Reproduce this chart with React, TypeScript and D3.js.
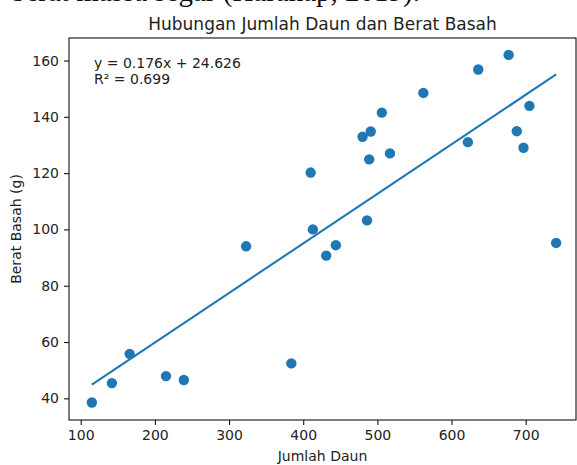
import { useEffect, useRef } from "react";
import * as d3 from "d3";

const WIDTH = 577;
const HEIGHT = 465;

// data
const jumlahDaun = [115, 142, 166, 215, 239, 323, 384, 410, 413, 431, 444, 480, 491, 489, 486, 506, 517, 562, 622, 636, 677, 688, 697, 705, 741];
const beratBasah = [38.5, 45.4, 55.8, 47.9, 46.5, 94.0, 52.4, 120.2, 100.0, 90.7, 94.4, 132.9, 134.8, 124.9, 103.2, 141.5, 127.0, 148.5, 131.0, 156.8, 162.0, 134.9, 129.0, 143.9, 95.2];
const xTicks = [100, 200, 300, 400, 500, 600, 700];
const yTicks = [40, 60, 80, 100, 120, 140, 160];
const slope = 0.176;
const intercept = 24.626;
const r2 = 0.699;

const FONT = "DejaVu Sans, sans-serif";
const BLUE = "#1f77b4";

export default function App() {
  const svgRef = useRef<SVGSVGElement>(null);

  useEffect(() => {
    const svg = d3.select(svgRef.current);
    svg.selectAll("*").remove();

    const left = 69, right = 576, top = 38, bottom = 420;
    const x = d3.scaleLinear().domain([84.2, 767.8]).range([left, right]);
    const y = d3.scaleLinear().domain([32.3, 168]).range([bottom, top]);

    // cropped line of the document above the figure (only its lower edge shows)
    svg.append("text")
      .attr("x", 420).attr("y", 1)
      .attr("text-anchor", "end")
      .attr("font-family", "Liberation Serif, serif")
      .attr("font-size", 29)
      .attr("fill", "#111")
      .text("berat massa segar (Harahap, 2019).");

    // points
    svg.append("g")
      .selectAll("circle")
      .data(jumlahDaun.map((d, i) => [d, beratBasah[i]]))
      .join("circle")
      .attr("cx", (d) => x(d[0]))
      .attr("cy", (d) => y(d[1]))
      .attr("r", 5.2)
      .attr("fill", BLUE);

    // regression line
    const xs = d3.extent(jumlahDaun) as [number, number];
    svg.append("path")
      .datum(xs.map((v) => [v, slope * v + intercept]))
      .attr("d", d3.line<number[]>().x((d) => x(d[0])).y((d) => y(d[1])))
      .attr("fill", "none")
      .attr("stroke", BLUE)
      .attr("stroke-width", 2.1);

    // frame
    svg.append("rect")
      .attr("x", left).attr("y", top)
      .attr("width", right - left).attr("height", bottom - top)
      .attr("fill", "none")
      .attr("stroke", "#111")
      .attr("stroke-width", 1.1);

    const xAxis = svg.append("g")
      .attr("transform", `translate(0,${bottom})`)
      .call(d3.axisBottom(x).tickValues(xTicks).tickSize(5).tickPadding(5));
    const yAxis = svg.append("g")
      .attr("transform", `translate(${left},0)`)
      .call(d3.axisLeft(y).tickValues(yTicks).tickSize(5).tickPadding(5));
    [xAxis, yAxis].forEach((g) => {
      g.select(".domain").remove();
      g.selectAll("line").attr("stroke", "#111").attr("stroke-width", 1.1);
      g.selectAll("text")
        .attr("font-family", FONT)
        .attr("font-size", 14)
        .attr("fill", "#222");
    });

    svg.append("text")
      .attr("x", (left + right) / 2).attr("y", 30)
      .attr("text-anchor", "middle")
      .attr("font-family", FONT)
      .attr("font-size", 17)
      .attr("fill", "#222")
      .text("Hubungan Jumlah Daun dan Berat Basah");

    svg.append("text")
      .attr("x", (left + right) / 2).attr("y", 461)
      .attr("text-anchor", "middle")
      .attr("font-family", FONT)
      .attr("font-size", 14)
      .attr("fill", "#222")
      .text("Jumlah Daun");

    svg.append("text")
      .attr("transform", `translate(21,${(top + bottom) / 2}) rotate(-90)`)
      .attr("text-anchor", "middle")
      .attr("font-family", FONT)
      .attr("font-size", 14)
      .attr("fill", "#222")
      .text("Berat Basah (g)");

    const eq = svg.append("text")
      .attr("font-family", FONT)
      .attr("font-size", 14)
      .attr("fill", "#222");
    eq.append("tspan").attr("x", 94).attr("y", 68)
      .text(`y = ${slope.toFixed(3)}x + ${intercept.toFixed(3)}`);
    eq.append("tspan").attr("x", 94).attr("y", 84)
      .text(`R² = ${r2.toFixed(3)}`);
  }, []);

  return (
    <svg
      ref={svgRef}
      width={WIDTH}
      height={HEIGHT}
      style={{ position: "absolute", left: 0, top: 0, background: "#fff" }}
    />
  );
}
